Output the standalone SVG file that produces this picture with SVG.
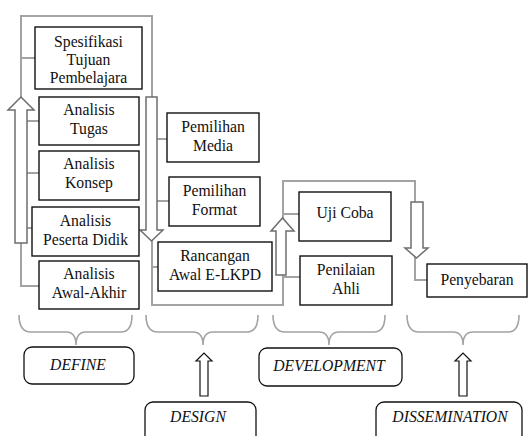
<svg xmlns="http://www.w3.org/2000/svg" width="528" height="436" viewBox="0 0 528 436">
<style>
.ln{fill:none;stroke:#a3a3a3;stroke-width:2}
.br{fill:none;stroke:#a3a3a3;stroke-width:1.6}
.ar{fill:#fff;stroke:#6e6e6e;stroke-width:1.5;stroke-linejoin:miter}
.ab{fill:#fff;stroke:#111;stroke-width:1.2}
.bx{fill:#fff;stroke:#111;stroke-width:1.4}
.rb{fill:#fff;stroke:#111;stroke-width:1.3}
text{font-family:'Liberation Serif','Times New Roman',serif;font-size:15.7px;fill:#111;text-anchor:middle}
.it{font-style:italic}
</style>
<g id="connectors">
<path class="ln" d="M39,286 H21 V16 H152 V305 H283 V181 H415 V280 H427"/>
<path class="ln" d="M21,58 H35 M21,121 H39 M21,173 H39 M21,228 H32"/>
<path class="ln" d="M152,139 H167 M152,201 H169 M152,267 H158"/>
<path class="ln" d="M283,214 H299 M283,277 H300"/>
<polygon class="ar" points="15,243 27,243 27,110 34,110 21,97 8,110 15,110"/>
<polygon class="ar" points="146,97 157,97 157,230 163,230 151.5,241 140,230 146,230"/>
<polygon class="ar" points="276,275 286,275 286,231 294,231 282.5,218 271,231 276,231"/>
<polygon class="ar" points="411,202 423,202 423,248 428,248 416.5,258 405,248 411,248"/>
<path class="br" d="M19,315 Q19,332 31,332 H66 Q76,332 76,345 Q76,332 86,332 H121 Q132,332 132,315"/>
<path class="br" d="M146,315 Q146,332 158,332 H193 Q203,332 203,345 Q203,332 213,332 H247 Q258,332 258,315"/>
<path class="br" d="M273,315 Q273,332 285,332 H319 Q329,332 329,345 Q329,332 339,332 H374 Q385,332 385,315"/>
<path class="br" d="M407,315 Q407,332 419,332 H453 Q463,332 463,345 Q463,332 473,332 H508 Q519,332 519,315"/>
<polygon class="ab" points="200,396 208,396 208,361 212,361 204,353 196,361 200,361"/>
<polygon class="ab" points="459,396 467,396 467,361 471,361 463,353 455,361 459,361"/>
</g>
<g id="spesifikasi"><rect class="bx" x="35" y="27" width="107" height="62"/><text x="88.5" y="47">Spesifikasi</text><text x="88.5" y="65">Tujuan</text><text x="88.5" y="83">Pembelajara</text></g>
<g id="tugas"><rect class="bx" x="39" y="97" width="100" height="48"/><text x="89" y="115">Analisis</text><text x="89" y="134">Tugas</text></g>
<g id="konsep"><rect class="bx" x="39" y="151" width="100" height="49"/><text x="89" y="169">Analisis</text><text x="89" y="188">Konsep</text></g>
<g id="peserta"><rect class="bx" x="32" y="207" width="107" height="49"/><text x="85.5" y="225.5">Analisis</text><text x="85.5" y="245">Peserta Didik</text></g>
<g id="awal"><rect class="bx" x="39" y="261" width="100" height="48"/><text x="89" y="279">Analisis</text><text x="89" y="298">Awal-Akhir</text></g>
<g id="media"><rect class="bx" x="167" y="113" width="92" height="49"/><text x="213" y="131.5">Pemilihan</text><text x="213" y="150.5">Media</text></g>
<g id="format"><rect class="bx" x="169" y="177" width="91" height="49"/><text x="214.5" y="195.5">Pemilihan</text><text x="214.5" y="214.5">Format</text></g>
<g id="rancangan"><rect class="bx" x="158" y="242" width="114" height="49"/><text x="215" y="260.5">Rancangan</text><text x="215" y="279.5">Awal E-LKPD</text></g>
<g id="ujicoba"><rect class="bx" x="299" y="192" width="92" height="49"/><text x="345" y="218">Uji Coba</text></g>
<g id="penilaian"><rect class="bx" x="300" y="256" width="92" height="49"/><text x="346" y="275">Penilaian</text><text x="346" y="293.5">Ahli</text></g>
<g id="penyebaran"><rect class="bx" x="427" y="264" width="100" height="33"/><text x="477" y="285">Penyebaran</text></g>
<g id="define"><rect class="rb" x="24" y="347" width="110" height="37" rx="8"/><text class="it" x="78" y="370">DEFINE</text></g>
<g id="development"><rect class="rb" x="259" y="348" width="143" height="38" rx="8"/><text class="it" x="329" y="371">DEVELOPMENT</text></g>
<g id="design"><rect class="rb" x="145" y="402" width="111" height="44" rx="8"/><text class="it" x="198" y="422">DESIGN</text></g>
<g id="dissemination"><rect class="rb" x="376" y="402" width="146" height="44" rx="8"/><text class="it" x="450" y="422">DISSEMINATION</text></g>
</svg>
